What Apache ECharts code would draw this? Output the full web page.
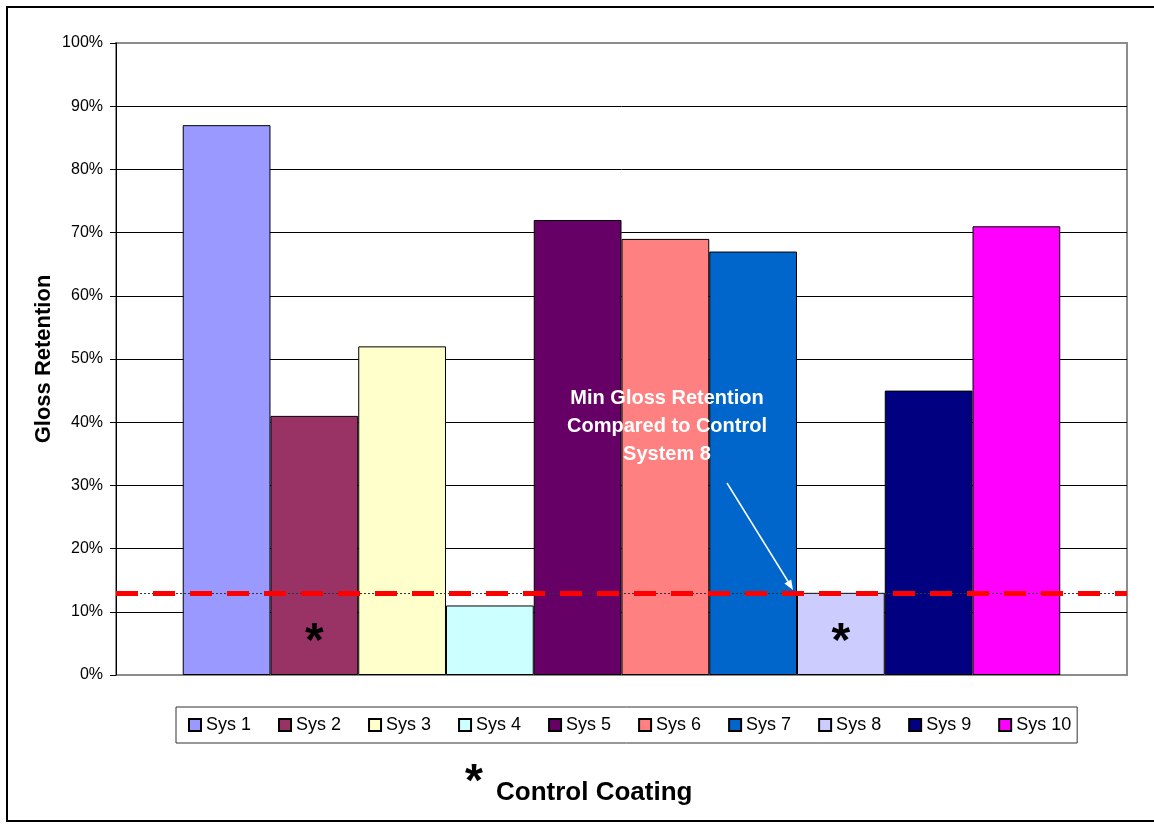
<!DOCTYPE html>
<html>
<head>
<meta charset="utf-8">
<script src="https://cdn.jsdelivr.net/npm/echarts@6/dist/echarts.min.js"></script>
<style>
html,body{margin:0;padding:0;background:#fff;}
#chart{width:1154px;height:824px;}
</style>
</head>
<body>
<div id="chart"></div>
<script>
// ---- data ----
const categories = [''];
const systems = ['Sys 1', 'Sys 2', 'Sys 3', 'Sys 4', 'Sys 5', 'Sys 6', 'Sys 7', 'Sys 8', 'Sys 9', 'Sys 10'];
const glossRetention = [87, 41, 52, 11, 72, 69, 67, 13, 45, 71];
const controlSystems = ['Sys 2', 'Sys 8'];
const minRetention = 13;
const yAxisTitle = 'Gloss Retention';
const annotationLines = ['Min Gloss Retention', 'Compared to Control', 'System 8'];
const footnote = 'Control Coating';

// ---- styles ----
const palette = ['#9999FF', '#993366', '#FFFFCC', '#CCFFFF', '#660066', '#FF8080', '#0066CC', '#CCCCFF', '#000080', '#FF00FF'];
const FONT = '"Liberation Sans", Arial, sans-serif';

const chart = echarts.init(document.getElementById('chart'), null, {renderer: 'canvas'});

const series = systems.map((name, i) => {
  const s = {
    type: 'bar',
    name: name,
    data: [glossRetention[i]],
    barGap: '0%',
    barCategoryGap: '13.2%',
    itemStyle: {color: palette[i], borderColor: '#000', borderWidth: 1},
    label: controlSystems.includes(name) ? {
      show: true, formatter: '*', position: 'insideBottom', distance: 8,
      fontSize: 48, fontWeight: 'bold', color: '#000', fontFamily: FONT
    } : {show: false},
    emphasis: {disabled: true}
  };
  if (i === systems.length - 1) {
    s.markLine = {
      silent: true,
      symbol: 'none',
      z: 6,
      label: {show: false},
      data: [
        {yAxis: minRetention, lineStyle: {color: '#333', width: 1, type: [2, 2]}},
        {yAxis: minRetention, lineStyle: {color: '#FF0000', width: 5, type: [22, 15]}}
      ]
    };
  }
  return s;
});

const splitColors = [];
for (let k = 0; k <= 10; k++) splitColors.push(k === 0 || k === 10 ? '#8c8c8c' : '#000');

const option = {
  animation: false,
  color: palette,
  grid: {left: 116, right: 27, top: 43, bottom: 149, show: true, borderColor: '#8c8c8c', borderWidth: 2, backgroundColor: 'transparent'},
  xAxis: {
    type: 'category',
    data: categories,
    axisLine: {show: false},
    axisTick: {show: false},
    axisLabel: {show: false},
    splitLine: {show: false}
  },
  yAxis: {
    type: 'value',
    min: 0, max: 100, interval: 10,
    name: yAxisTitle,
    nameLocation: 'middle',
    nameGap: 61,
    nameMoveOverlap: false,
    nameTextStyle: {fontSize: 22, fontWeight: 'bold', color: '#000', fontFamily: FONT},
    axisLine: {show: true, lineStyle: {color: '#000', width: 1}},
    axisTick: {show: true, length: 6, inside: false, lineStyle: {color: '#000'}},
    axisLabel: {formatter: '{value}%', fontSize: 16, color: '#000', margin: 13, fontFamily: FONT},
    splitLine: {show: true, lineStyle: {color: splitColors, width: 1}}
  },
  legend: {
    data: systems,
    left: 176, top: 707,
    orient: 'horizontal',
    itemWidth: 12, itemHeight: 12,
    itemGap: 27,
    icon: 'rect',
    padding: [8, 6, 8, 12],
    borderColor: '#333', borderWidth: 1,
    textStyle: {fontSize: 18, color: '#000', fontFamily: FONT, lineHeight: 20},
    selectedMode: false
  },
  series: series,
  graphic: [
    {type: 'rect', z: 100, silent: true, shape: {x: 7, y: 7, width: 1160, height: 814},
      style: {fill: 'none', stroke: '#000', lineWidth: 2}},
    {type: 'text', z: 100, silent: true, x: 667, y: 384,
      style: {text: annotationLines.join('\n'), fill: '#fff', font: 'bold 20px ' + FONT, align: 'center', verticalAlign: 'top', lineHeight: 28}},
    {type: 'line', z: 100, silent: true, shape: {x1: 727, y1: 483, x2: 789, y2: 583},
      style: {stroke: '#fff', lineWidth: 1.5}},
    {type: 'polygon', z: 100, silent: true, shape: {points: [[793, 590], [784.4, 583.6], [791.2, 579.4]]},
      style: {fill: '#fff'}},
    {type: 'text', z: 100, silent: true, x: 474, y: 760,
      style: {text: '*', fill: '#000', font: 'bold 46px ' + FONT, align: 'center', verticalAlign: 'top'}},
    {type: 'text', z: 100, silent: true, x: 496, y: 793,
      style: {text: footnote, fill: '#000', font: 'bold 26px ' + FONT, align: 'left', verticalAlign: 'middle'}}
  ]
};
chart.setOption(option);
</script>
</body>
</html>
